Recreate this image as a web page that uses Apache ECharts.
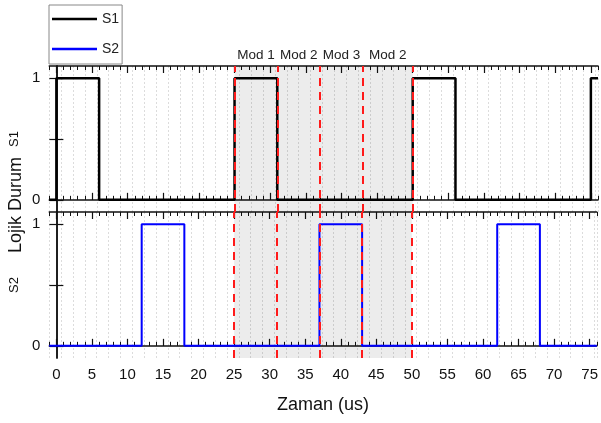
<!DOCTYPE html>
<html>
<head>
<meta charset="utf-8">
<script src="https://cdn.jsdelivr.net/npm/echarts@6/dist/echarts.min.js"></script>
<style>
  html, body { margin: 0; padding: 0; background: #fff; }
  #chart { width: 601px; height: 423px; }
</style>
</head>
<body>
<div id="chart"></div>
<script>
// ---- data ----
var xLabels = [0, 5, 10, 15, 20, 25, 30, 35, 40, 45, 50, 55, 60, 65, 70, 75];
var s1Times = [-1, 0, 6, 25, 31, 50, 56, 75, 76];
var s1Values = [0, 1, 0, 1, 0, 1, 0, 1, 1];
var s2Times = [-1, 12, 18, 37, 43, 62, 68, 76];
var s2Values = [0, 1, 0, 1, 0, 1, 0, 0];
var modeBounds = [25, 31, 37, 43, 50];
var modeNames = ['Mod 1', 'Mod 2', 'Mod 3', 'Mod 2'];

var FONT = "'Liberation Sans', Arial, sans-serif";
var xMin = -1, xMax = 76;

function zip(a, b) {
  return a.map(function (v, i) { return [v, b[i]]; });
}

/*---------- axes builders ----------*/
function xAxesFor(grid, withLabels) {
  var line = { show: true, lineStyle: { color: '#111', width: 1.5 } };
  var major = function (pos, labels) {
    return {
      type: 'value', gridIndex: grid, min: xMin, max: xMax, position: pos,
      axisLine: line,
      axisTick: { inside: true, length: 7, customValues: xLabels, lineStyle: { color: '#111', width: 1.2 } },
      axisLabel: { show: labels, customValues: xLabels, fontSize: 15, color: '#111', margin: 9, fontFamily: FONT },
      splitLine: { show: false },
      name: labels ? 'Zaman (us)' : '',
      nameLocation: 'middle', nameGap: 38,
      nameTextStyle: { fontSize: 18, color: '#111', fontFamily: FONT }
    };
  };
  var minor = function (pos) {
    return {
      type: 'value', gridIndex: grid, min: xMin, max: xMax, interval: 1, position: pos,
      axisLine: { show: false },
      axisTick: { inside: true, length: 4, lineStyle: { color: '#111', width: 1 } },
      axisLabel: { show: false },
      splitLine: { show: false }
    };
  };
  var gridLines = {
    type: 'value', gridIndex: grid, min: xMin, max: xMax, interval: 5 / 3,
    axisLine: { show: false }, axisTick: { show: false }, axisLabel: { show: false },
    splitLine: { show: true, lineStyle: { color: '#dcdcdc', type: [2, 2], width: 1 } }
  };
  return [major('bottom', withLabels), minor('bottom'), major('top', false), minor('top'), gridLines];
}

function yAxesFor(grid, name) {
  var tick = { inside: true, length: 7, customValues: [0, 0.5, 1], lineStyle: { color: '#111', width: 1.2 } };
  return [{
    type: 'value', gridIndex: grid, min: -0.1, max: 1.1, position: 'left',
    axisLine: { show: true, lineStyle: { color: '#111', width: 1.5 } },
    axisTick: tick,
    axisLabel: { customValues: [0, 1], fontSize: 15, color: '#111', margin: 9, fontFamily: FONT },
    splitLine: { show: false },
    name: name, nameLocation: 'middle', nameGap: 7, nameRotate: 90,
    nameTextStyle: { fontSize: 13, color: '#111', fontFamily: FONT }
  }, {
    type: 'value', gridIndex: grid, min: -0.1, max: 1.1, position: 'right',
    axisLine: { show: true, lineStyle: { color: '#111', width: 1.5 } },
    axisTick: tick,
    axisLabel: { show: false },
    splitLine: { show: false }
  }];
}

/*---------- mode shading / dashed lines ----------*/
function modeArea(withLabels) {
  var data = [[{ xAxis: modeBounds[0] }, { xAxis: modeBounds[modeBounds.length - 1] }]];
  if (withLabels) {
    modeNames.forEach(function (n, i) {
      data.push([
        { xAxis: modeBounds[i], name: n, itemStyle: { color: 'rgba(0,0,0,0)' } },
        { xAxis: modeBounds[i + 1] }
      ]);
    });
  }
  return {
    silent: true,
    itemStyle: { color: 'rgba(0,0,0,0.075)' },
    label: { show: withLabels, position: 'top', distance: 4, fontSize: 13.5, color: '#222', fontFamily: FONT },
    data: data
  };
}
function modeLines() {
  return {
    silent: true, symbol: 'none', animation: false,
    label: { show: false },
    lineStyle: { color: '#ff1a1a', type: [8, 6], width: 2 },
    data: modeBounds.map(function (b) { return { xAxis: b }; })
  };
}

var chart = echarts.init(document.getElementById('chart'));
chart.setOption({
  animation: false,
  textStyle: { fontFamily: FONT },
  legend: {
    data: ['S1', 'S2'], orient: 'vertical', left: 49, top: 5,
    icon: 'rect', itemWidth: 45, itemHeight: 2.5, itemGap: 14,
    padding: [6, 3, 7, 3],
    borderColor: '#888', borderWidth: 1,
    textStyle: { fontSize: 14, color: '#222', fontFamily: FONT, lineHeight: 16 }
  },
  graphic: [{
    type: 'text', x: 16, y: 205, rotation: Math.PI / 2,
    style: { text: 'Lojik Durum', fontSize: 18, fill: '#111', font: '18px ' + FONT, textAlign: 'center', textVerticalAlign: 'middle' }
  }],
  grid: [
    { left: 49, top: 66, width: 549, height: 146 },
    { left: 49, top: 212, width: 549, height: 146 }
  ],
  xAxis: xAxesFor(0, false).concat(xAxesFor(1, true)),
  yAxis: yAxesFor(0, 'S1').concat(yAxesFor(1, 'S2')),
  series: [{
    name: 'S1', type: 'line', xAxisIndex: 0, yAxisIndex: 0,
    step: 'end', symbol: 'none',
    lineStyle: { color: '#000', width: 2.5 }, itemStyle: { color: '#000' },
    data: zip(s1Times, s1Values),
    markArea: modeArea(true),
    markLine: modeLines()
  }, {
    name: 'S2', type: 'line', xAxisIndex: 5, yAxisIndex: 2,
    step: 'end', symbol: 'none',
    lineStyle: { color: '#0000ff', width: 2 }, itemStyle: { color: '#0000ff' },
    data: zip(s2Times, s2Values),
    markArea: modeArea(false),
    markLine: modeLines()
  }]
});
</script>
</body>
</html>
